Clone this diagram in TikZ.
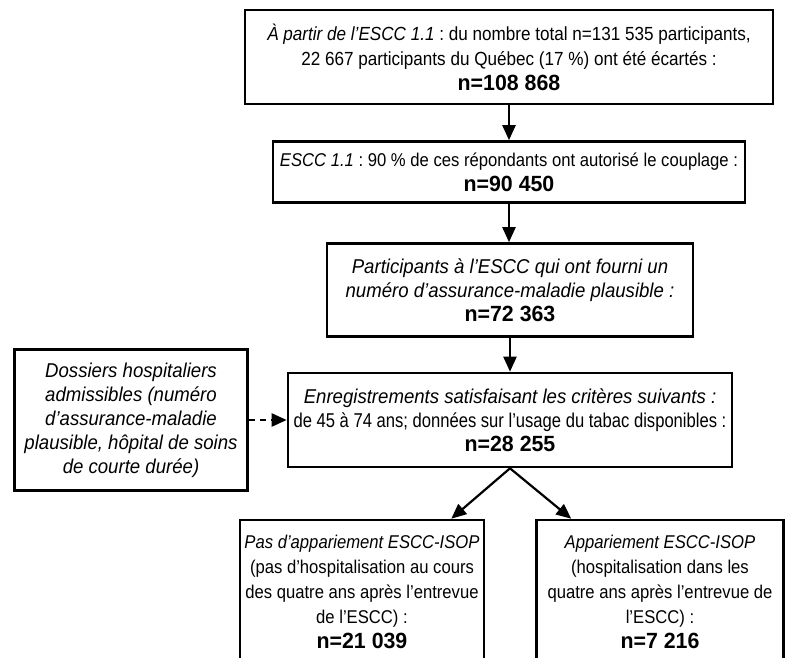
\documentclass[tikz,border=0pt]{standalone}
\usepackage{fontspec}
\setmainfont[FakeStretch=0.9]{Liberation Sans}
\newfontfamily\condfont[FakeStretch=0.83]{Liberation Sans}
\newfontfamily\conditfont[FakeStretch=0.93]{Liberation Sans}
\newfontfamily\numfont[FakeStretch=0.97]{Liberation Sans}
\usetikzlibrary{arrows.meta}
\frenchspacing

\tikzset{
  box/.style={draw, line width=2.6pt, align=center, inner sep=0pt, font=\fontsize{19}{25}\selectfont},
  smallbox/.style={box, font=\fontsize{18.5}{25}\selectfont},
  condbox/.style={box, font=\condfont\fontsize{20}{24}\selectfont},
  arr/.style={-{Triangle[length=15pt,width=13pt]}, line width=2.2pt},
}
\newcommand{\nval}[1]{{\numfont\fontsize{22}{29}\selectfont\bfseries #1}}
\newcommand{\cit}[1]{{\conditfont\itshape #1}}

\begin{document}
\begin{tikzpicture}[x=1pt,y=-1pt]
        \useasboundingbox (0,0) rectangle (792,658);
        \clip (0,0) rectangle (792,658);
        \node[box, minimum width=528pt, minimum height=94pt] (total) at (509,57) {\textit{À partir de l’ESCC 1.1} : du nombre total n=131 535 participants,\\ 22 667 participants du Québec (17 \%) ont été écartés :\\ \nval{n=108 868}};
        \node[smallbox, minimum width=472pt, minimum height=61pt] (linked) at (509,172) {\textit{ESCC 1.1} : 90 \% de ces répondants ont autorisé le couplage :\\ \nval{n=90 450}};
        \node[condbox, minimum width=366pt, minimum height=93pt] (hin) at (510,290) {\cit{Participants à l’ESCC qui ont fourni un}\\ \cit{numéro d’assurance-maladie plausible :}\\ \nval{n=72 363}};
        \node[condbox, minimum width=444pt, minimum height=94pt] (crit) at (510,420) {\cit{Enregistrements satisfaisant les critères suivants :}\\ de 45 à 74 ans; données sur l’usage du tabac disponibles :\\ \nval{n=28 255}};
        \node[condbox, minimum width=233pt, minimum height=141pt] (hosp) at (131,420) {\cit{Dossiers hospitaliers}\\ \cit{admissibles (numéro}\\ \cit{d’assurance-maladie}\\ \cit{plausible, hôpital de soins}\\ \cit{de courte durée)}};
        \node[smallbox, minimum width=244pt, minimum height=144pt] (nomatch) at (362,592) {\textit{Pas d’appariement ESCC-ISOP}\\ (pas d’hospitalisation au cours\\ des quatre ans après l’entrevue\\ de l’ESCC) :\\ \nval{n=21 039}};
        \node[smallbox, minimum width=247pt, minimum height=144pt] (match) at (660,592) {\textit{Appariement ESCC-ISOP}\\ (hospitalisation dans les\\ quatre ans après l’entrevue de\\ l’ESCC) :\\ \nval{n=7 216}};
        \draw[arr] (total) -- (linked);
        \draw[arr] (linked.south) -- (linked.south |- hin.north);
        \draw[arr] (hin) -- (crit);
        \draw[arr, dash pattern=on 6pt off 5pt] (hosp) -- (crit);
        \draw[arr] (crit.south) -- ([xshift=-34pt]nomatch.north east);
        \draw[arr] (crit.south) -- ([xshift=36pt]match.north west);
    \end{tikzpicture}
\end{document}
